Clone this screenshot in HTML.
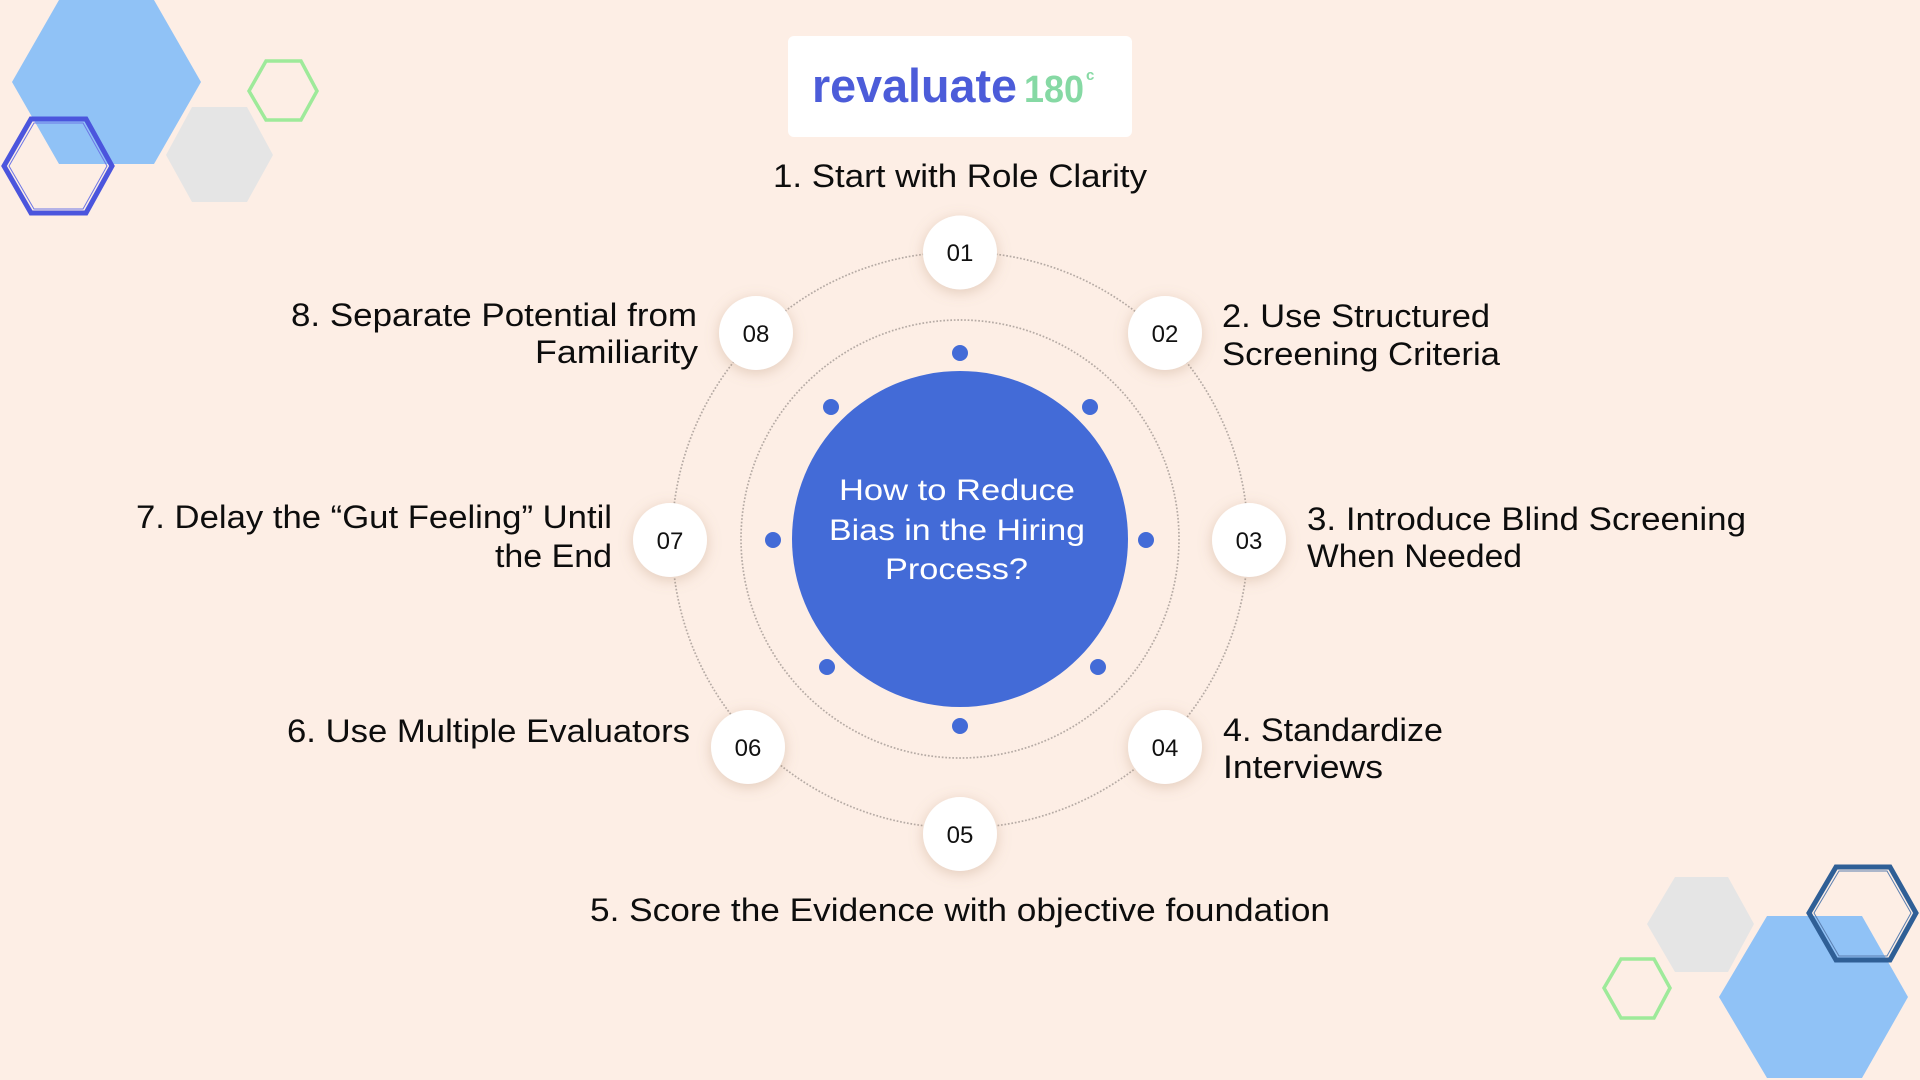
<!DOCTYPE html>
<html>
<head>
<meta charset="utf-8">
<style>
  html,body{margin:0;padding:0;background:#fdeee5;}
  svg{display:block;}
  .lbl{font-family:"Liberation Sans",sans-serif;font-size:32px;fill:#0d0d0d;}
  .num{font-family:"Liberation Sans",sans-serif;font-size:24px;fill:#111;}
  .ctr{font-family:"Liberation Sans",sans-serif;font-size:30px;fill:#ffffff;}
</style>
</head>
<body>
<svg width="1920" height="1080" viewBox="0 0 1920 1080" xmlns="http://www.w3.org/2000/svg">
  <defs>
    <filter id="sh" x="-60%" y="-60%" width="220%" height="220%">
      <feGaussianBlur in="SourceAlpha" stdDeviation="7"/>
      <feOffset dx="0" dy="3" result="b"/>
      <feFlood flood-color="#b08a6a" flood-opacity="0.35"/>
      <feComposite in2="b" operator="in"/>
      <feMerge><feMergeNode/><feMergeNode in="SourceGraphic"/></feMerge>
    </filter>
  </defs>

  <rect x="0" y="0" width="1920" height="1080" fill="#fdeee5"/>

  <!-- top-left hexagons -->
  <polygon points="12,82 59,0 154,0 201,82 154,164 59,164" fill="#90c2f6"/>
  <polygon points="166,155 192,107 247,107 273,155 247,202 192,202" fill="#e5e5e5"/>
  <polygon points="249,91 266,61 301,61 317,91 301,120 266,120" fill="none" stroke="#9eea9a" stroke-width="3.5"/>
  <polygon points="4,166 31,119 86,119 112,166 86,213 31,213" fill="none" stroke="#4b55dd" stroke-width="5"/>
  <polygon points="9,166 34,123 83,123 107,166 83,209 34,209" fill="none" stroke="#6d76e6" stroke-width="1"/>

  <!-- bottom-right hexagons -->
  <polygon points="1647,924 1675,877 1728,877 1754,924 1728,972 1675,972" fill="#e5e5e5"/>
  <polygon points="1604,988 1621,959 1654,959 1670,988 1654,1018 1621,1018" fill="none" stroke="#9eea9a" stroke-width="3.5"/>
  <polygon points="1719,997 1767,916 1862,916 1908,997 1862,1078 1767,1078" fill="#90c2f6"/>
  <polygon points="1809,913 1836,867 1890,867 1916,913 1890,960 1836,960" fill="none" stroke="#2f5f96" stroke-width="5"/>
  <polygon points="1814,913 1839,871 1887,871 1911,913 1887,956 1839,956" fill="none" stroke="#5b7fb0" stroke-width="1"/>

  <!-- logo -->
  <rect x="788" y="36" width="344" height="101" rx="6" fill="#ffffff"/>
  <text x="812" y="102" font-family="Liberation Sans, sans-serif" font-weight="bold" font-size="47" fill="#4c5cd9" textLength="205" lengthAdjust="spacingAndGlyphs">revaluate</text>
  <text x="1024" y="102" font-family="Liberation Sans, sans-serif" font-weight="bold" font-size="38" fill="#86d9a4" textLength="60" lengthAdjust="spacingAndGlyphs">180</text>
  <text x="1086" y="80" font-family="Liberation Sans, sans-serif" font-weight="bold" font-size="15" fill="#86d9a4">c</text>

  <!-- dotted circles -->
  <circle cx="960" cy="540" r="288" fill="none" stroke="#b5aaa4" stroke-width="1.7" stroke-dasharray="1.7 1.8"/>
  <circle cx="960" cy="539" r="219" fill="none" stroke="#b5aaa4" stroke-width="1.7" stroke-dasharray="1.7 1.8"/>

  <!-- central circle -->
  <circle cx="960" cy="539" r="168" fill="#436bd7"/>

  <!-- small dots -->
  <g fill="#436bd7">
    <circle cx="960" cy="353" r="8"/>
    <circle cx="831" cy="407" r="8"/>
    <circle cx="1090" cy="407" r="8"/>
    <circle cx="773" cy="540" r="8"/>
    <circle cx="1146" cy="540" r="8"/>
    <circle cx="827" cy="667" r="8"/>
    <circle cx="1098" cy="667" r="8"/>
    <circle cx="960" cy="726" r="8"/>
  </g>

  <!-- center text -->
  <text class="ctr" x="839" y="500" textLength="236" lengthAdjust="spacingAndGlyphs">How to Reduce</text>
  <text class="ctr" x="829" y="540" textLength="256" lengthAdjust="spacingAndGlyphs">Bias in the Hiring</text>
  <text class="ctr" x="885" y="579" textLength="143" lengthAdjust="spacingAndGlyphs">Process?</text>

  <!-- nodes -->
  <g filter="url(#sh)" fill="#ffffff">
    <circle cx="960" cy="252.5" r="37"/>
    <circle cx="1165" cy="333" r="37"/>
    <circle cx="1249" cy="540" r="37"/>
    <circle cx="1165" cy="747" r="37"/>
    <circle cx="960" cy="834" r="37"/>
    <circle cx="748" cy="747" r="37"/>
    <circle cx="670" cy="540" r="37"/>
    <circle cx="756" cy="333" r="37"/>
  </g>
  <g class="num" text-anchor="middle">
    <text x="960" y="261">01</text>
    <text x="1165" y="342">02</text>
    <text x="1249" y="549">03</text>
    <text x="1165" y="756">04</text>
    <text x="960" y="843">05</text>
    <text x="748" y="756">06</text>
    <text x="670" y="549">07</text>
    <text x="756" y="342">08</text>
  </g>

  <!-- labels -->
  <text class="lbl" x="773" y="187" textLength="374" lengthAdjust="spacingAndGlyphs">1. Start with Role Clarity</text>

  <text class="lbl" x="1222" y="327" textLength="268" lengthAdjust="spacingAndGlyphs">2. Use Structured</text>
  <text class="lbl" x="1222" y="365" textLength="278" lengthAdjust="spacingAndGlyphs">Screening Criteria</text>

  <text class="lbl" x="1307" y="530" textLength="439" lengthAdjust="spacingAndGlyphs">3. Introduce Blind Screening</text>
  <text class="lbl" x="1307" y="567" textLength="215" lengthAdjust="spacingAndGlyphs">When Needed</text>

  <text class="lbl" x="1223" y="741" textLength="220" lengthAdjust="spacingAndGlyphs">4. Standardize</text>
  <text class="lbl" x="1223" y="778" textLength="160" lengthAdjust="spacingAndGlyphs">Interviews</text>

  <text class="lbl" x="590" y="921" textLength="740" lengthAdjust="spacingAndGlyphs">5. Score the Evidence with objective foundation</text>

  <text class="lbl" x="287" y="742" textLength="403" lengthAdjust="spacingAndGlyphs">6. Use Multiple Evaluators</text>

  <text class="lbl" x="136" y="528" textLength="476" lengthAdjust="spacingAndGlyphs">7. Delay the “Gut Feeling” Until</text>
  <text class="lbl" x="495" y="567" textLength="117" lengthAdjust="spacingAndGlyphs">the End</text>

  <text class="lbl" x="291" y="326" textLength="406" lengthAdjust="spacingAndGlyphs">8. Separate Potential from</text>
  <text class="lbl" x="535" y="363" textLength="163" lengthAdjust="spacingAndGlyphs">Familiarity</text>
</svg>
</body>
</html>
